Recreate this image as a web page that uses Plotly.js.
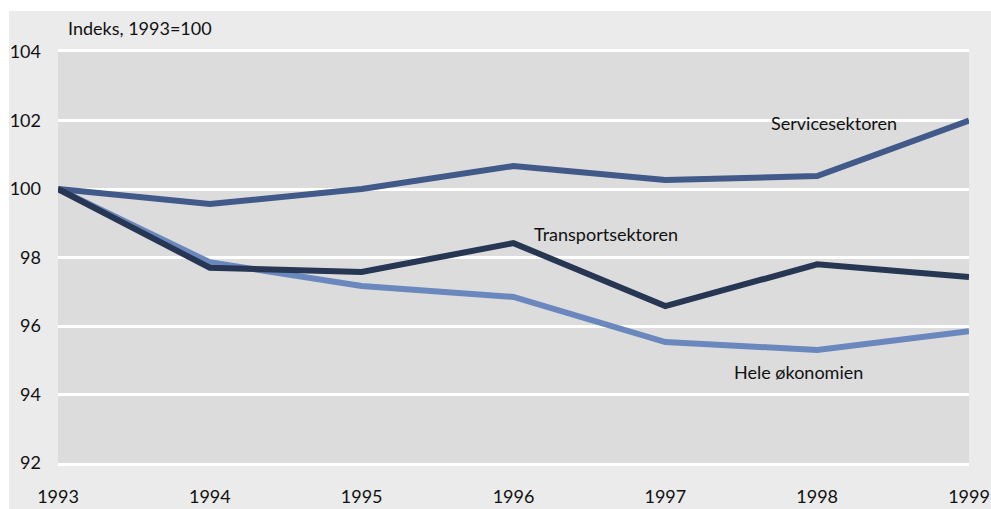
<!DOCTYPE html>
<html>
<head>
<meta charset="utf-8">
<script src="https://cdn.plot.ly/plotly-3.0.1.min.js"></script>
<style>
  html, body { margin: 0; padding: 0; background: #ffffff; }
  #chart { position: absolute; left: 9px; top: 11px; width: 982px; height: 498px; }
</style>
</head>
<body>
<div id="chart"></div>
<script>
const years = [1993, 1994, 1995, 1996, 1997, 1998, 1999];
const service = [100, 99.56, 100.0, 100.67, 100.26, 100.38, 102.0];
const transport = [100, 97.7, 97.58, 98.42, 96.58, 97.8, 97.43];
const heleOkonomien = [100, 97.86, 97.17, 96.85, 95.53, 95.3, 95.85];
const yTicks = [92, 94, 96, 98, 100, 102, 104];

const font = 'Lato, sans-serif';

function line(y, color, name) {
  return { type: 'scatter', mode: 'lines', x: years, y, name,
    line: { color, width: 6 }, hoverinfo: 'skip', cliponaxis: true };
}

const traces = [
  line(heleOkonomien, '#6a88bd', 'Hele økonomien'),
  line(service, '#415a8a', 'Servicesektoren'),
  line(transport, '#263653', 'Transportsektoren')
];

function label(text, x, y) {
  return { text, x, y, xref: 'x', yref: 'y', showarrow: false,
    font: { family: font, size: 18, color: '#111111' } };
}

const layout = {
  width: 982, height: 498,
  margin: { l: 49, r: 22, t: 41, b: 46 },
  paper_bgcolor: '#ebebeb',
  plot_bgcolor: '#dcdcdc',
  showlegend: false,
  font: { family: font, size: 18, color: '#111111' },
  xaxis: {
    range: [1993, 1999], tickvals: years, ticktext: years.map(String),
    showgrid: false, zeroline: false,
    showline: true, mirror: true, linecolor: '#ffffff', linewidth: 3,
    ticks: '', ticklabelstandoff: 15, automargin: false
  },
  yaxis: {
    range: [92, 104], tickvals: yTicks, ticktext: yTicks.map(String),
    showgrid: true, gridcolor: '#ffffff', gridwidth: 3,
    zeroline: false, showline: false, ticks: '', ticklabelstandoff: 16, automargin: false
  },
  annotations: [
    { text: 'Indeks, 1993=100', xref: 'paper', yref: 'paper',
      x: 0.0088, y: 1.058, xanchor: 'left', yanchor: 'middle', showarrow: false,
      font: { family: font, size: 18, color: '#111111' } },
    label('Servicesektoren', 1998.11, 101.93),
    label('Transportsektoren', 1996.61, 98.69),
    label('Hele økonomien', 1997.88, 94.66)
  ]
};

Plotly.newPlot('chart', traces, layout, { displayModeBar: false, staticPlot: true });
</script>
</body>
</html>
